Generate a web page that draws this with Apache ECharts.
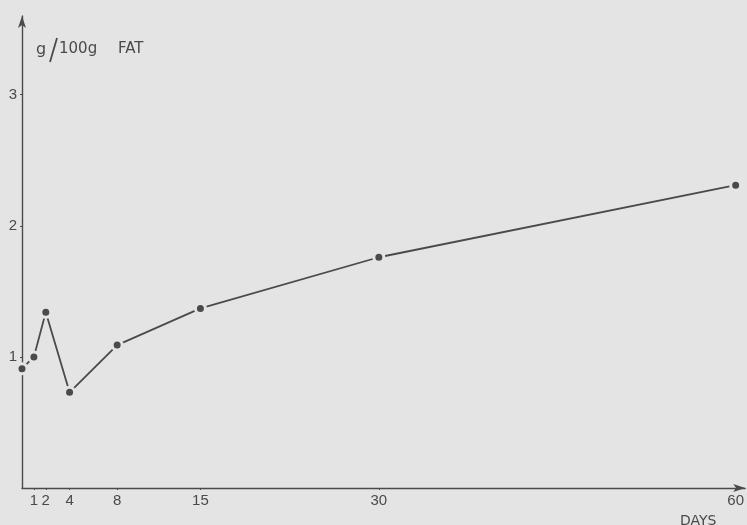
<!DOCTYPE html>
<html>
<head>
<meta charset="utf-8">
<script src="https://cdn.jsdelivr.net/npm/echarts@6/dist/echarts.min.js"></script>
<style>
  html, body { margin: 0; padding: 0; background: #e4e4e4; }
  #chart { width: 747px; height: 525px; }
</style>
</head>
<body>
<div id="chart"></div>
<script>
const days = [0, 1, 2, 4, 8, 15, 30, 60];
const values = [0.91, 1.0, 1.34, 0.73, 1.09, 1.37, 1.76, 2.31];
const xTickLabels = [1, 2, 4, 8, 15, 30, 60];
const yTickLabels = [1, 2, 3];

const bg = '#e4e4e4';
const ink = '#4a4a4a';
const font = 'Liberation Sans, Arial, sans-serif';
const titleFont = 'DejaVu Sans, sans-serif';

const chart = echarts.init(document.getElementById('chart'), null, { renderer: 'canvas' });
chart.setOption({
  backgroundColor: bg,
  animation: false,
  grid: { left: 22, right: 0, top: 16, bottom: 37, containLabel: false },
  xAxis: {
    type: 'value',
    min: 0,
    max: 60.8,
    splitLine: { show: false },
    axisLine: { show: true, lineStyle: { color: ink, width: 1.4 }, symbol: ['none', 'arrow'], symbolSize: [6, 12] },
    axisTick: { show: true, length: 2, inside: false, customValues: xTickLabels, lineStyle: { color: ink } },
    axisLabel: { customValues: xTickLabels, color: ink, fontFamily: font, fontSize: 15, margin: 5, showMaxLabel: true }
  },
  yAxis: {
    type: 'value',
    min: 0,
    max: 3.6,
    splitLine: { show: false },
    axisLine: { show: true, lineStyle: { color: ink, width: 1.4 }, symbol: ['none', 'arrow'], symbolSize: [6, 12] },
    axisTick: { show: true, length: 2, customValues: yTickLabels, lineStyle: { color: ink } },
    axisLabel: { customValues: yTickLabels, color: ink, fontFamily: font, fontSize: 15, margin: 5 }
  },
  series: [{
    type: 'line',
    data: days.map((d, i) => [d, values[i]]),
    symbol: 'circle',
    symbolSize: 10,
    showAllSymbol: true,
    lineStyle: { color: ink, width: 1.8 },
    itemStyle: { color: ink, borderColor: bg, borderWidth: 3 },
    clip: false,
    z: 3
  }],
  graphic: [
    { type: 'text', left: 36, top: 42, style: { text: 'g', font: '16px ' + titleFont, fill: ink } },
    { type: 'line', shape: { x1: 50, y1: 62, x2: 57, y2: 38 }, style: { stroke: ink, lineWidth: 1.8 } },
    { type: 'text', left: 59, top: 42, style: { text: '100g', font: '15px ' + titleFont, fill: ink } },
    { type: 'text', left: 118, top: 42, style: { text: 'FAT', font: '15px ' + titleFont, fill: ink } },
    { type: 'text', left: 680, top: 514, style: { text: 'DAYS', font: '14px ' + titleFont, fill: ink } }
  ]
});
</script>
</body>
</html>
